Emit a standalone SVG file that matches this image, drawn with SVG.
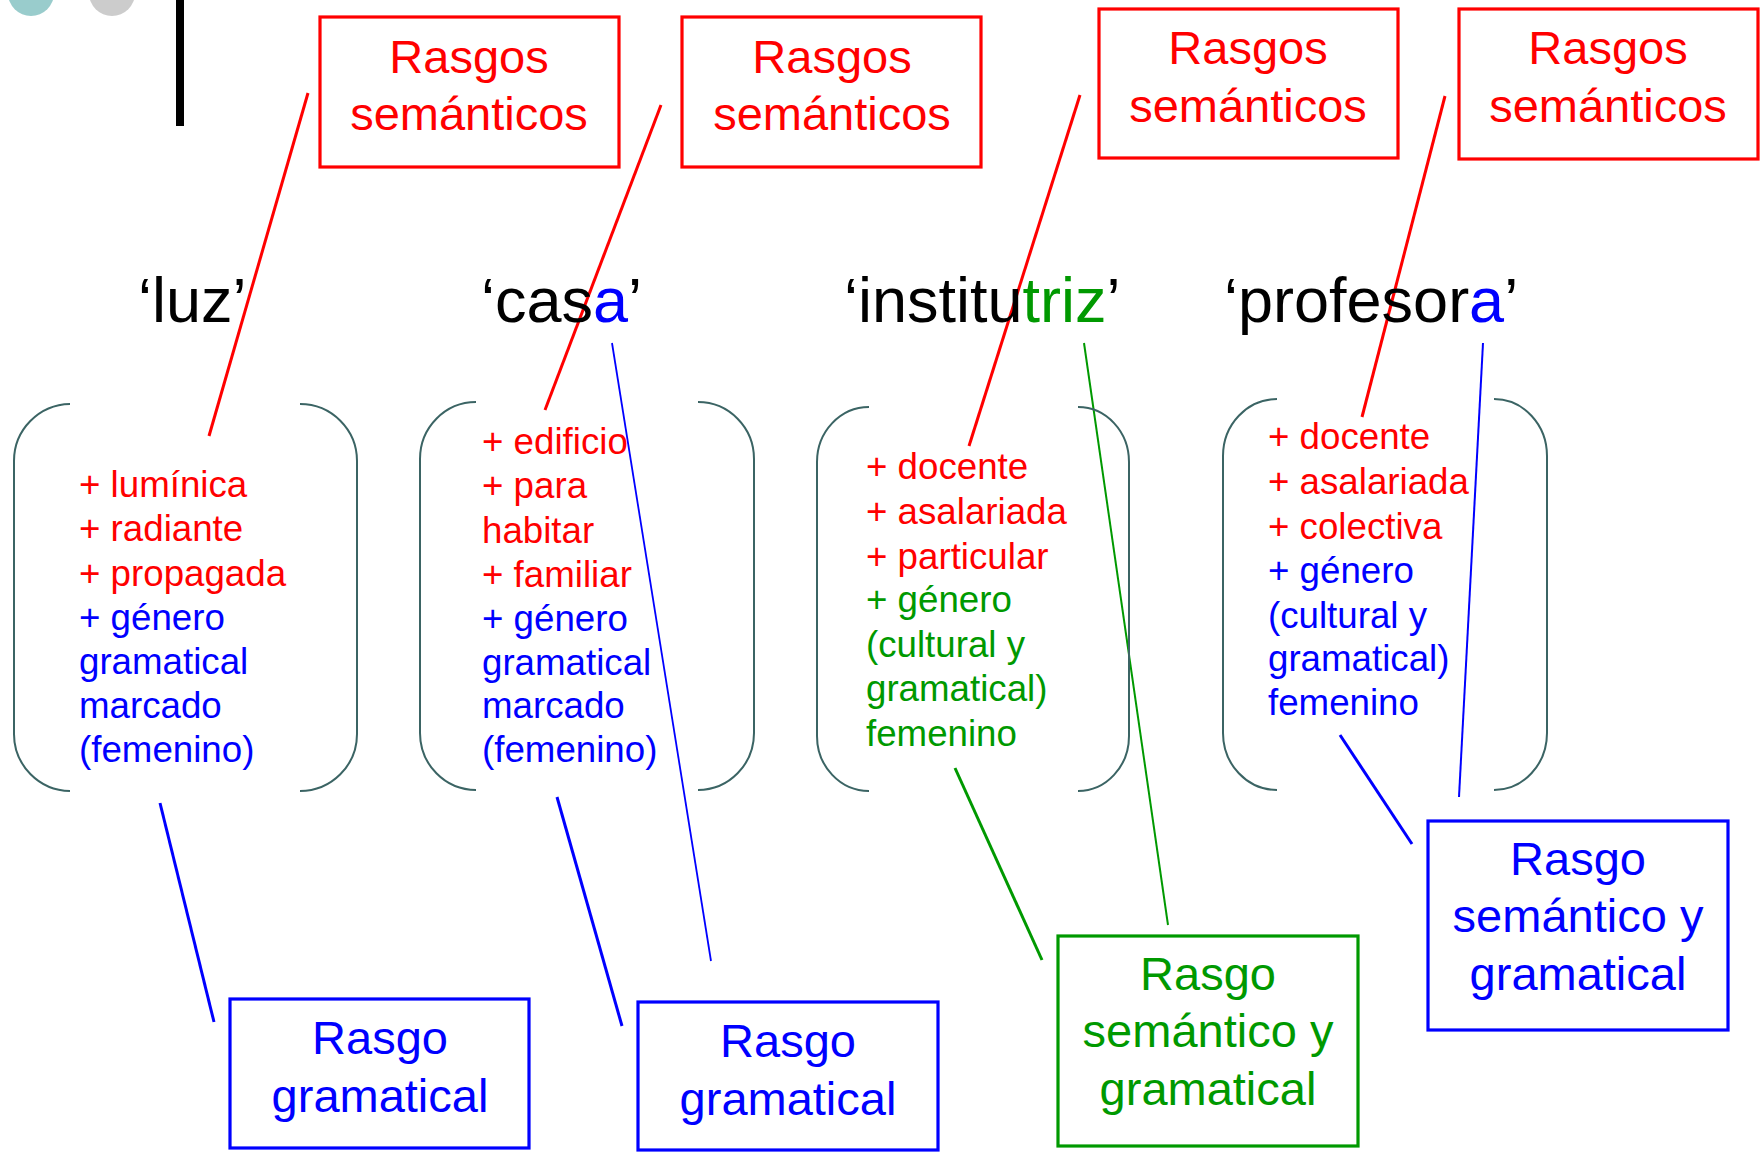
<svg xmlns="http://www.w3.org/2000/svg" width="1764" height="1152" viewBox="0 0 1764 1152">
<style>
text{font-family:"Liberation Sans",Arial,sans-serif}
.box{fill:none;stroke-width:3.2}
.rb{stroke:#ff0000}.bb{stroke:#0000ff}.gb{stroke:#009900}
.bt{font-size:47px;text-anchor:middle}
.w{font-size:63px;fill:#000}
.l{font-size:36.7px}
.r{fill:#ff0000}.b{fill:#0000ff}.g{fill:#009900}
.br{fill:none;stroke:#3b6464;stroke-width:2}
.c{fill:none;stroke-linecap:butt}
</style>
<rect width="1764" height="1152" fill="#fff"/>
<g id="decor">
<circle cx="31" cy="-7" r="23" fill="#99cccc"/>
<circle cx="112" cy="-7" r="23" fill="#cccccc"/>
<rect x="176" y="0" width="8" height="126" fill="#000"/>
</g>
<g id="connectors">
<line class="c" x1="308" y1="93" x2="209" y2="436" stroke="#ff0000" stroke-width="3"/>
<line class="c" x1="661" y1="105" x2="545" y2="410" stroke="#ff0000" stroke-width="3"/>
<line class="c" x1="1080" y1="95" x2="969" y2="446" stroke="#ff0000" stroke-width="3"/>
<line class="c" x1="1445" y1="96" x2="1362" y2="417" stroke="#ff0000" stroke-width="3"/>
<line class="c" x1="160" y1="803" x2="214" y2="1022" stroke="#0000ff" stroke-width="3"/>
<line class="c" x1="557" y1="797" x2="622" y2="1026" stroke="#0000ff" stroke-width="3"/>
<line class="c" x1="612" y1="343" x2="711" y2="961" stroke="#0000ff" stroke-width="1.8"/>
<line class="c" x1="1340" y1="735" x2="1412" y2="844" stroke="#0000ff" stroke-width="3"/>
<line class="c" x1="1483" y1="343" x2="1459" y2="797" stroke="#0000ff" stroke-width="2"/>
<line class="c" x1="1084" y1="343" x2="1168" y2="925" stroke="#009900" stroke-width="2"/>
<line class="c" x1="955" y1="768" x2="1042" y2="960" stroke="#009900" stroke-width="3"/>
</g>
<g id="sem1"><rect class="box rb" x="320" y="17" width="299" height="150"/><text class="bt r" x="469" y="73">Rasgos</text><text class="bt r" x="469" y="130">semánticos</text></g>
<g id="sem2"><rect class="box rb" x="682" y="17" width="299" height="150"/><text class="bt r" x="832" y="73">Rasgos</text><text class="bt r" x="832" y="130">semánticos</text></g>
<g id="sem3"><rect class="box rb" x="1099" y="9" width="299" height="149"/><text class="bt r" x="1248" y="64">Rasgos</text><text class="bt r" x="1248" y="122">semánticos</text></g>
<g id="sem4"><rect class="box rb" x="1459" y="9" width="299" height="150"/><text class="bt r" x="1608" y="64">Rasgos</text><text class="bt r" x="1608" y="122">semánticos</text></g>
<g id="word-luz"><text class="w" x="138" y="322">‘luz’</text></g>
<g id="word-casa"><text class="w" x="481" y="322">‘cas<tspan class="b">a</tspan>’</text></g>
<g id="word-institutriz"><text class="w" x="844" y="322">‘institu<tspan class="g">triz</tspan>’</text></g>
<g id="word-profesora"><text class="w" x="1224" y="322">‘profesor<tspan class="b">a</tspan>’</text></g>
<g id="feat-luz">
<path class="br" d="M70 404 A57 57 0 0 0 14 461 L14 734 A57 57 0 0 0 70 791"/>
<path class="br" d="M300 404 A57 57 0 0 1 357 461 L357 734 A57 57 0 0 1 300 791"/>
<text class="l" x="79"><tspan class="r" x="79" y="497">+ lumínica</tspan><tspan class="r" x="79" y="541">+ radiante</tspan><tspan class="r" x="79" y="586">+ propagada</tspan><tspan class="b" x="79" y="630">+ género</tspan><tspan class="b" x="79" y="674">gramatical</tspan><tspan class="b" x="79" y="718">marcado</tspan><tspan class="b" x="79" y="762">(femenino)</tspan></text>
</g>
<g id="feat-casa">
<path class="br" d="M476 402 A56 57 0 0 0 420 459 L420 733 A56 57 0 0 0 476 790"/>
<path class="br" d="M698 402 A56 57 0 0 1 754 459 L754 733 A56 57 0 0 1 698 790"/>
<text class="l"><tspan class="r" x="482" y="454">+ edificio</tspan><tspan class="r" x="482" y="498">+ para</tspan><tspan class="r" x="482" y="543">habitar</tspan><tspan class="r" x="482" y="587">+ familiar</tspan><tspan class="b" x="482" y="631">+ género</tspan><tspan class="b" x="482" y="675">gramatical</tspan><tspan class="b" x="482" y="718">marcado</tspan><tspan class="b" x="482" y="762">(femenino)</tspan></text>
</g>
<g id="feat-institutriz">
<path class="br" d="M869 407 A52 55 0 0 0 817 462 L817 736 A52 55 0 0 0 869 791"/>
<path class="br" d="M1078 407 A51 55 0 0 1 1129 462 L1129 736 A51 55 0 0 1 1078 791"/>
<text class="l"><tspan class="r" x="866" y="479">+ docente</tspan><tspan class="r" x="866" y="524">+ asalariada</tspan><tspan class="r" x="866" y="569">+ particular</tspan><tspan class="g" x="866" y="612">+ género</tspan><tspan class="g" x="866" y="657">(cultural y</tspan><tspan class="g" x="866" y="701">gramatical)</tspan><tspan class="g" x="866" y="746">femenino</tspan></text>
</g>
<g id="feat-profesora">
<path class="br" d="M1277 399 A54 57 0 0 0 1223 456 L1223 733 A54 57 0 0 0 1277 790"/>
<path class="br" d="M1494 399 A53 57 0 0 1 1547 456 L1547 733 A53 57 0 0 1 1494 790"/>
<text class="l"><tspan class="r" x="1268" y="449">+ docente</tspan><tspan class="r" x="1268" y="494">+ asalariada</tspan><tspan class="r" x="1268" y="539">+ colectiva</tspan><tspan class="b" x="1268" y="583">+ género</tspan><tspan class="b" x="1268" y="628">(cultural y</tspan><tspan class="b" x="1268" y="671">gramatical)</tspan><tspan class="b" x="1268" y="715">femenino</tspan></text>
</g>
<g id="gram1"><rect class="box bb" x="230" y="999" width="299" height="149"/><text class="bt b" x="380" y="1054">Rasgo</text><text class="bt b" x="380" y="1112">gramatical</text></g>
<g id="gram2"><rect class="box bb" x="638" y="1002" width="300" height="148"/><text class="bt b" x="788" y="1057">Rasgo</text><text class="bt b" x="788" y="1115">gramatical</text></g>
<g id="semgram-green"><rect class="box gb" x="1058" y="936" width="300" height="210"/><text class="bt g" x="1208" y="990">Rasgo</text><text class="bt g" x="1208" y="1047">semántico y</text><text class="bt g" x="1208" y="1105">gramatical</text></g>
<g id="semgram-blue"><rect class="box bb" x="1428" y="821" width="300" height="209"/><text class="bt b" x="1578" y="875">Rasgo</text><text class="bt b" x="1578" y="932">semántico y</text><text class="bt b" x="1578" y="990">gramatical</text></g>
</svg>
